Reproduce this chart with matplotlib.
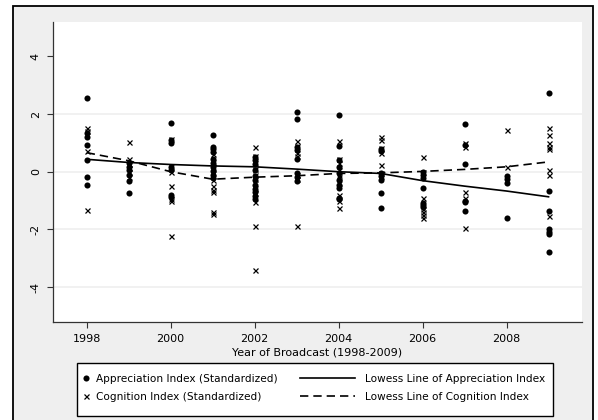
import matplotlib
matplotlib.use("Agg")
import matplotlib.pyplot as plt
from matplotlib.patches import Rectangle
from matplotlib.lines import Line2D

# ---------------- data ----------------
years = [1998, 1999, 2000, 2001, 2002, 2003, 2004, 2005, 2006, 2007, 2008, 2009]

appreciation_by_year = [
    [2.56, 1.35, 1.22, 0.93, 0.40, -0.17, -0.46],
    [0.30, 0.18, 0.05, -0.10, -0.33, -0.73],
    [1.68, 1.10, 0.98, 0.15, 0.05, -0.80, -0.88],
    [1.27, 0.87, 0.78, 0.68, 0.45, 0.30, 0.15, 0.02, -0.10, -0.22],
    [0.52, 0.40, 0.25, 0.05, -0.15, -0.30, -0.45, -0.60, -0.72, -0.85, -0.95],
    [2.07, 1.82, 0.85, 0.75, 0.45, -0.05, -0.20, -0.32],
    [1.95, 0.90, 0.42, 0.18, -0.05, -0.30, -0.45, -0.55, -0.90, -0.95],
    [0.80, 0.72, -0.05, -0.15, -0.30, -0.75, -1.25],
    [0.00, -0.12, -0.22, -0.58, -1.10, -1.15, -1.22],
    [1.67, 0.93, 0.27, -1.00, -1.05, -1.37],
    [-0.15, -0.25, -0.38, -1.62],
    [2.73, -0.67, -1.37, -2.00, -2.10, -2.15, -2.80],
]

cognition_by_year = [
    [1.52, 1.40, 0.72, -1.33],
    [1.02, 0.43, 0.28, 0.12, 0.00, -0.20],
    [1.15, 0.20, 0.00, -0.50, -0.95, -1.00, -2.23],
    [0.60, 0.35, 0.15, -0.05, -0.30, -0.50, -0.62, -0.72, -1.40, -1.47],
    [0.87, 0.55, 0.30, 0.10, -0.10, -0.25, -0.55, -0.75, -1.05, -1.87, -3.40],
    [1.07, 0.90, 0.65, 0.55, -0.10, -0.25, -1.87],
    [1.05, 0.45, 0.30, 0.05, -0.10, -0.20, -0.40, -0.80, -1.00, -1.25],
    [1.20, 1.10, 0.82, 0.65, 0.22, -0.05, -0.15],
    [0.50, -0.02, -0.90, -1.30, -1.40, -1.50, -1.60],
    [0.98, 0.85, -0.72, -0.92, -1.95],
    [1.43, 0.17],
    [1.53, 1.27, 1.00, 0.85, 0.78, 0.05, -0.10, -1.52],
]

lowess_appreciation = [0.43, 0.32, 0.25, 0.20, 0.17, 0.09, 0.00, -0.06, -0.31, -0.50, -0.67, -0.87]
lowess_cognition = [0.66, 0.38, 0.00, -0.26, -0.19, -0.14, -0.06, -0.04, 0.01, 0.08, 0.17, 0.34]

x_ticks = [1998, 2000, 2002, 2004, 2006, 2008]
y_ticks = [-4, -2, 0, 2, 4]
grid_levels = [-4, -2, 0, 2]

label_app = "Appreciation Index (Standardized)"
label_cog = "Cognition Index (Standardized)"
label_low_app = "Lowess Line of Appreciation Index"
label_low_cog = "Lowess Line of Cognition Index"

# ---------------- figure ----------------
W, H = 598, 420
fig = plt.figure(figsize=(W / 100, H / 100), dpi=100, facecolor="white")

# outer graph region (light gray with black frame)
fig.patches.append(Rectangle((13 / W, -0.05), (593 - 13) / W, 1.05 - 6 / H,
                             transform=fig.transFigure, facecolor="#efefef",
                             edgecolor="black", linewidth=1.3, zorder=-10))

ax = fig.add_axes([52.7 / W, 1 - 321.7 / H, (581.7 - 52.7) / W, (321.7 - 22) / H])
ax.set_facecolor("white")

for g in grid_levels:
    ax.axhline(g, color="#efefef", linewidth=1.2, zorder=0)

# scatter points
for yr, vals in zip(years, appreciation_by_year):
    ax.plot([yr] * len(vals), vals, linestyle="none", marker="o", markersize=4.4,
            color="black", markeredgewidth=0, zorder=3)
for yr, vals in zip(years, cognition_by_year):
    ax.plot([yr] * len(vals), vals, linestyle="none", marker="x", markersize=3.6,
            color="black", markeredgewidth=0.9, zorder=3)

ax.plot(years, lowess_appreciation, color="black", linewidth=1.2, zorder=4)
ax.plot(years, lowess_cognition, color="black", linewidth=1.2,
        linestyle=(0, (5, 3)), zorder=4)

ax.set_xlim(1997.19, 2009.79)
ax.set_ylim(-5.2, 5.19)
ax.set_xticks(x_ticks)
ax.set_yticks(y_ticks)
ax.set_yticklabels([str(t) for t in y_ticks], rotation=90, va="center")
ax.tick_params(axis="both", direction="out", length=4.5, width=0.8,
               color="#333333", labelsize=8, labelcolor="black", pad=4)
ax.set_xlabel("Year of Broadcast (1998-2009)", fontsize=8, labelpad=3)

for s in ["top", "right"]:
    ax.spines[s].set_visible(False)
for s in ["left", "bottom"]:
    ax.spines[s].set_color("#333333")
    ax.spines[s].set_linewidth(0.9)

# legend frame
fig.patches.append(Rectangle((77 / W, 1 - 416 / H), (553 - 77) / W, (416 - 363) / H,
                             transform=fig.transFigure, facecolor="white",
                             edgecolor="black", linewidth=1.0, zorder=1))

h_app = Line2D([], [], linestyle="none", marker="o", markersize=4.4, color="black",
               markeredgewidth=0)
h_cog = Line2D([], [], linestyle="none", marker="x", markersize=3.6, color="black",
               markeredgewidth=0.9)
h_lapp = Line2D([], [], color="black", linewidth=1.2)
h_lcog = Line2D([], [], color="black", linewidth=1.2, linestyle=(0, (5, 3)))

fig.legend([h_app, h_cog], [label_app, label_cog], loc="upper left",
           bbox_to_anchor=(79 / W, 1 - 371 / H), frameon=False, fontsize=7.6,
           handlelength=0.7, handletextpad=0.6, labelspacing=0.75,
           borderaxespad=0, borderpad=0.3)
fig.legend([h_lapp, h_lcog], [label_low_app, label_low_cog], loc="upper left",
           bbox_to_anchor=(297 / W, 1 - 371 / H), frameon=False, fontsize=7.6,
           handlelength=5.2, handletextpad=0.9, labelspacing=0.75,
           borderaxespad=0, borderpad=0.3)

fig.savefig("out.png", dpi=100, facecolor=fig.get_facecolor())
